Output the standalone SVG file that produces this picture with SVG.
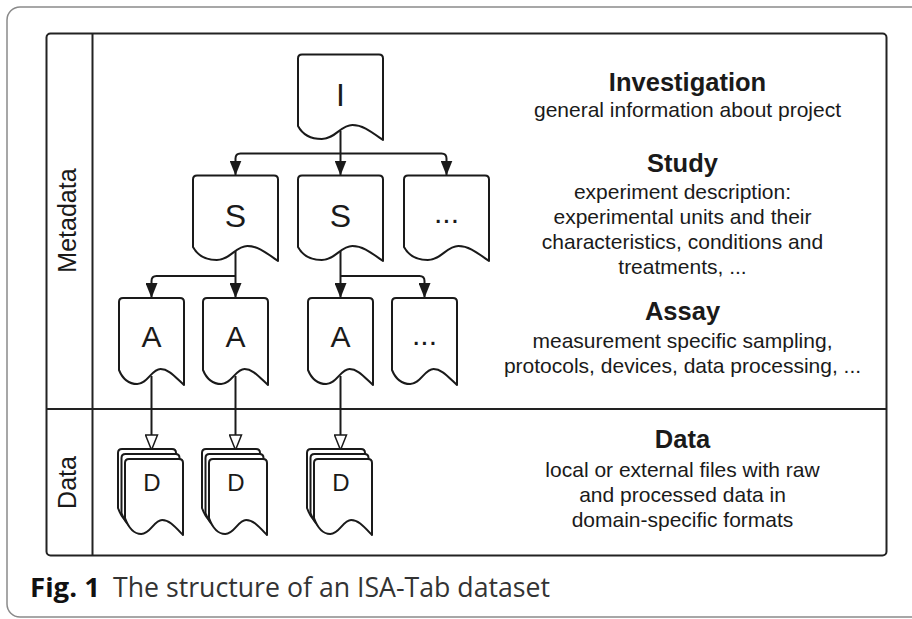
<svg xmlns="http://www.w3.org/2000/svg" xmlns:xlink="http://www.w3.org/1999/xlink" width="912" height="619" viewBox="0 0 912 619">
<style>
  .frame { fill: none; stroke: #8a8a8a; stroke-width: 1.5; }
  .box { fill: none; stroke: #222; stroke-width: 2; }
  .doc { fill: #fff; stroke: #1a1a1a; stroke-width: 2; stroke-linejoin: round; }
  .conn { fill: none; stroke: #1a1a1a; stroke-width: 2; }
  .title { font-family: "Liberation Sans", Arial, sans-serif; font-weight: bold; font-size: 25.5px; text-anchor: middle; fill: #1a1a1a; }
  .body { font-family: "Liberation Sans", Arial, sans-serif; font-size: 21px; text-anchor: middle; fill: #1a1a1a; }
  .side { font-family: "Liberation Sans", Arial, sans-serif; font-size: 25px; text-anchor: middle; fill: #1a1a1a; }
  .big { font-family: "Liberation Sans", Arial, sans-serif; font-size: 32px; text-anchor: middle; fill: #1a1a1a; }
  .mid { font-family: "Liberation Sans", Arial, sans-serif; font-size: 30px; text-anchor: middle; fill: #1a1a1a; }
  .small { font-family: "Liberation Sans", Arial, sans-serif; font-size: 24px; text-anchor: middle; fill: #1a1a1a; }
  .capb { font-family: "Open Sans", "Noto Sans", sans-serif; font-weight: bold; font-size: 27px; fill: #111; }
  .cap { font-family: "Open Sans", "Noto Sans", sans-serif; font-size: 27px; fill: #333; }
</style>
<defs>
  <path id="docL" d="M4,0 H81 Q85,0 85,4 V85.5 C72.25,76.5 64.6,70.5 54.4,70.5 C42.5,70.5 37.4,84.5 23.8,84.5 C11.9,84.5 4.25,79.5 0,71.5 V4 Q0,0 4,0 Z"/>
  <path id="docA" d="M4,0 H61 Q65,0 65,4 V87 C55.25,78 49.4,71 41.6,71 C32.5,71 28.6,86 18.2,86 C9.1,86 3.25,80 0,72 V4 Q0,0 4,0 Z"/>
  <path id="docD" d="M4,0 H54 Q58,0 58,4 V76 C49.3,67 44.08,61 37.12,61 C29,61 25.52,75 16.24,75 C8.12,75 2.9,67 0,59 V4 Q0,0 4,0 Z"/>
  <marker id="arrowFilled" viewBox="0 0 15 12" refX="15" refY="6" markerWidth="15" markerHeight="12" markerUnits="userSpaceOnUse" orient="auto">
    <path d="M0,0 L15,6 L0,12 Z" fill="#1a1a1a"/>
  </marker>
  <marker id="arrowOpen" viewBox="-1 -1 17 14" refX="15" refY="6" markerWidth="17" markerHeight="14" markerUnits="userSpaceOnUse" orient="auto">
    <path d="M0,0 L15,6 L0,12 Z" fill="#fff" stroke="#1a1a1a" stroke-width="1.5" stroke-linejoin="miter"/>
  </marker>
</defs>

<rect width="912" height="619" fill="#fff"/>
<rect class="frame" x="7" y="7" width="930" height="610" rx="13"/>

<g id="layout">
  <rect class="box" x="46.5" y="33.5" width="840" height="522" rx="4"/>
  <line class="box" x1="92.5" y1="33.5" x2="92.5" y2="555.5"/>
  <line class="box" x1="46.5" y1="409" x2="886.5" y2="409"/>
  <text class="side" transform="translate(75.5,220.5) rotate(-90)">Metadata</text>
  <text class="side" transform="translate(75.5,482.5) rotate(-90)">Data</text>
</g>

<g id="connectors">
  <path class="conn" d="M340.5,131 V175.5" marker-end="url(#arrowFilled)"/>
  <path class="conn" d="M340.5,153.5 H240.5 Q235.5,153.5 235.5,158.5 V175.5" marker-end="url(#arrowFilled)"/>
  <path class="conn" d="M340.5,153.5 H441.5 Q446.5,153.5 446.5,158.5 V175.5" marker-end="url(#arrowFilled)"/>
  <path class="conn" d="M235.5,251 V298" marker-end="url(#arrowFilled)"/>
  <path class="conn" d="M235.5,276 H156.5 Q151.5,276 151.5,281 V298" marker-end="url(#arrowFilled)"/>
  <path class="conn" d="M340.5,251 V298" marker-end="url(#arrowFilled)"/>
  <path class="conn" d="M340.5,276 H419.5 Q424.5,276 424.5,281 V298" marker-end="url(#arrowFilled)"/>
  <path class="conn" d="M151.5,376 V450" marker-end="url(#arrowOpen)"/>
  <path class="conn" d="M235.5,376 V450" marker-end="url(#arrowOpen)"/>
  <path class="conn" d="M340.5,376 V450" marker-end="url(#arrowOpen)"/>
</g>

<g id="node-I">
  <use class="doc" href="#docL" x="298" y="54.5"/>
  <text class="big" x="340.5" y="106">I</text>
</g>
<g id="node-S1">
  <use class="doc" href="#docL" x="193" y="175.5"/>
  <text class="big" x="235.5" y="227">S</text>
</g>
<g id="node-S2">
  <use class="doc" href="#docL" x="298" y="175.5"/>
  <text class="big" x="340.5" y="227">S</text>
</g>
<g id="node-S3">
  <use class="doc" href="#docL" x="404" y="175.5"/>
  <text class="mid" x="446.5" y="223">...</text>
</g>
<g id="node-A1">
  <use class="doc" href="#docA" x="119" y="298"/>
  <text class="mid" x="151.5" y="347">A</text>
</g>
<g id="node-A2">
  <use class="doc" href="#docA" x="203" y="298"/>
  <text class="mid" x="235.5" y="347">A</text>
</g>
<g id="node-A3">
  <use class="doc" href="#docA" x="308" y="298"/>
  <text class="mid" x="340.5" y="347">A</text>
</g>
<g id="node-A4">
  <use class="doc" href="#docA" x="392" y="298"/>
  <text class="mid" x="424.5" y="345">...</text>
</g>
<g id="node-D1">
  <use class="doc" href="#docD" x="118" y="449"/>
  <use class="doc" href="#docD" x="121.5" y="454"/>
  <use class="doc" href="#docD" x="125" y="459"/>
  <text class="small" x="152" y="491">D</text>
</g>
<g id="node-D2">
  <use class="doc" href="#docD" x="202" y="449"/>
  <use class="doc" href="#docD" x="205.5" y="454"/>
  <use class="doc" href="#docD" x="209" y="459"/>
  <text class="small" x="236" y="491">D</text>
</g>
<g id="node-D3">
  <use class="doc" href="#docD" x="307" y="449"/>
  <use class="doc" href="#docD" x="310.5" y="454"/>
  <use class="doc" href="#docD" x="314" y="459"/>
  <text class="small" x="341" y="491">D</text>
</g>

<g id="legend">
  <text class="title" x="687.5" y="91">Investigation</text>
  <text class="body" x="687.5" y="117">general information about project</text>
  <text class="title" x="682.5" y="172">Study</text>
  <text class="body" x="682.5" y="199">experiment description:</text>
  <text class="body" x="682.5" y="224">experimental units and their</text>
  <text class="body" x="682.5" y="249">characteristics, conditions and</text>
  <text class="body" x="682.5" y="274">treatments, ...</text>
  <text class="title" x="682.5" y="320">Assay</text>
  <text class="body" x="682.5" y="348">measurement specific sampling,</text>
  <text class="body" x="682.5" y="373">protocols, devices, data processing, ...</text>
  <text class="title" x="682.5" y="448">Data</text>
  <text class="body" x="682.5" y="477">local or external files with raw</text>
  <text class="body" x="682.5" y="502">and processed data in</text>
  <text class="body" x="682.5" y="527">domain-specific formats</text>
</g>

<g id="caption">
  <text class="capb" x="30" y="597" textLength="70" lengthAdjust="spacingAndGlyphs">Fig. 1</text>
  <text class="cap" x="113" y="597" textLength="437" lengthAdjust="spacingAndGlyphs">The structure of an ISA-Tab dataset</text>
</g>
</svg>
